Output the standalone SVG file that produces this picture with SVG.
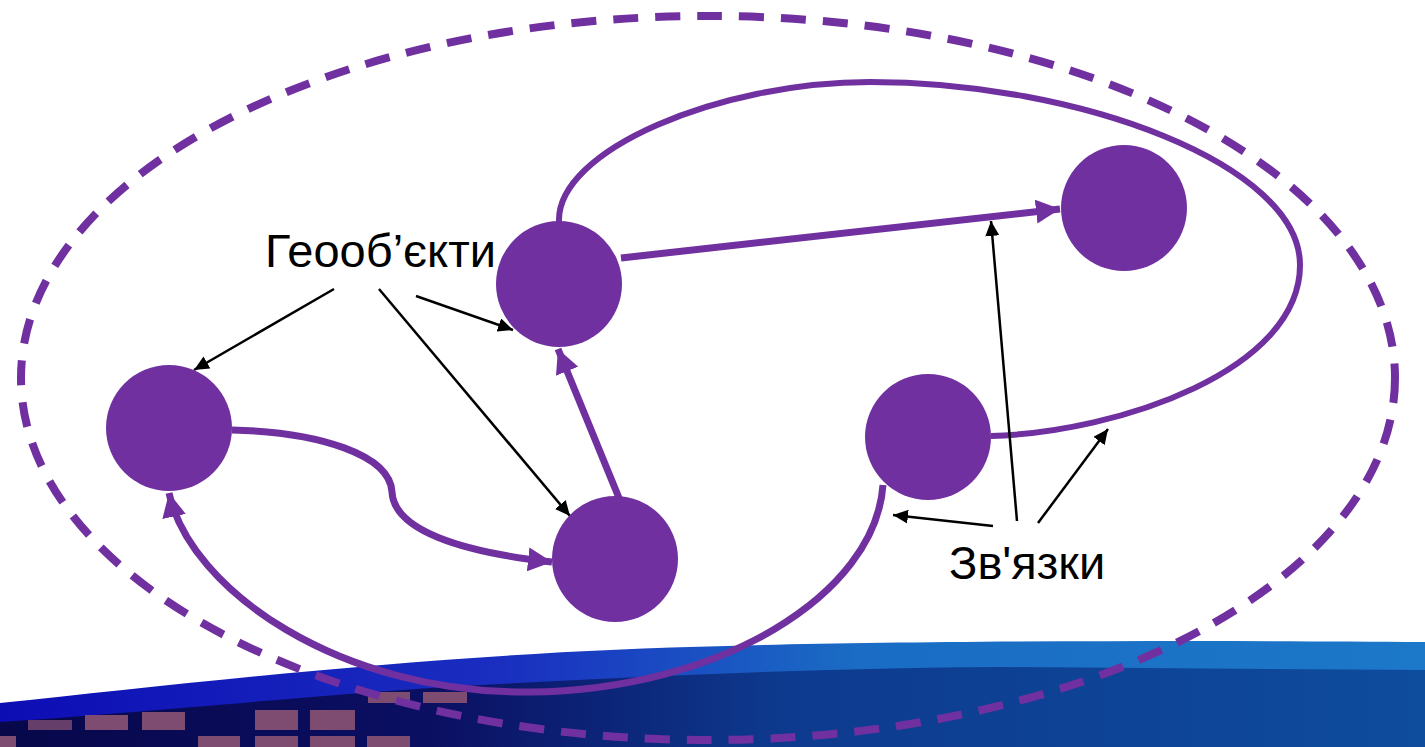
<svg xmlns="http://www.w3.org/2000/svg" width="1425" height="747" viewBox="0 0 1425 747">
<style>
.node{fill:#7030A0}
.link{fill:none;stroke:#7030A0;stroke-width:7}
.loop{fill:none;stroke:#7030A0;stroke-width:6}
.ptr{fill:none;stroke:#000;stroke-width:2.5}
.lbl{font-family:"Liberation Sans",Arial,sans-serif;font-size:47px;fill:#000}
.sq{fill:#7d4c70}
</style>
<defs>
<linearGradient id="band" x1="0" y1="0" x2="1" y2="0">
<stop offset="0" stop-color="#0d0db4"/>
<stop offset="0.35" stop-color="#1a2ec0"/>
<stop offset="0.6" stop-color="#1a6cc4"/>
<stop offset="1" stop-color="#1c78c8"/>
</linearGradient>
<linearGradient id="deep" x1="0" y1="0" x2="1" y2="0">
<stop offset="0" stop-color="#07074a"/>
<stop offset="0.3" stop-color="#0b0f62"/>
<stop offset="0.55" stop-color="#0d3a8e"/>
<stop offset="1" stop-color="#0e4c9e"/>
</linearGradient>
<marker id="pa" markerUnits="userSpaceOnUse" markerWidth="25" markerHeight="24" refX="24" refY="12" orient="auto">
<path d="M0,0 L24,12 L0,24 Z" fill="#7030A0"/>
</marker>
<marker id="ba" markerUnits="userSpaceOnUse" markerWidth="16" markerHeight="14" refX="15" refY="7" orient="auto">
<path d="M0,0 L15,7 L0,14 Z" fill="#000"/>
</marker>
</defs>
<g id="background">
<rect width="1425" height="747" fill="#fff"/>
<path d="M0,703 C200,682 450,652 727,646 C900,641 1200,640 1425,642 L1425,747 L0,747 Z" fill="url(#band)"/>
<path d="M0,722 C150,712 350,692 480,685 C650,676 820,668 1000,667 L1425,670 L1425,747 L0,747 Z" fill="url(#deep)"/>
<rect class="sq" x="368" y="692" width="42" height="11"/>
<rect class="sq" x="423" y="692" width="44" height="11"/>
<rect class="sq" x="28" y="720" width="44" height="10" opacity="0.8"/>
<rect class="sq" x="85" y="715" width="43" height="15"/>
<rect class="sq" x="142" y="712" width="43" height="18"/>
<rect class="sq" x="255" y="710" width="43" height="20"/>
<rect class="sq" x="310" y="710" width="45" height="20"/>
<rect class="sq" x="0" y="736" width="16" height="11"/>
<rect class="sq" x="198" y="736" width="42" height="11"/>
<rect class="sq" x="255" y="736" width="43" height="11"/>
<rect class="sq" x="310" y="736" width="45" height="11"/>
<rect class="sq" x="367" y="736" width="43" height="11"/>
</g>
<g id="boundary">
<ellipse cx="708" cy="378" rx="687" ry="362" fill="none" stroke="#7030A0" stroke-width="8" stroke-dasharray="25 17"/>
</g>
<g id="labels">
<g id="label-geoobjects"><text class="lbl" x="265" y="267">Геооб’єкти</text></g>
<g id="label-links"><text class="lbl" x="949" y="579">Зв'язки</text></g>
</g>
<g id="connectors">
<path class="loop" d="M559,222 C556,150 720,82 870,82 C1080,82 1300,165 1300,265 C1300,370 1120,432 991,436"/>
<path class="link" d="M621,258 L1060,209" marker-end="url(#pa)"/>
<path class="link" d="M619,498 L558,349" marker-end="url(#pa)"/>
<path class="link" d="M232,430 C320,432 390,455 392,492 C394,530 460,552 552,562" marker-end="url(#pa)"/>
<path class="link" d="M883,485 C875,595 720,690 530,692 C340,694 190,590 169,493" marker-end="url(#pa)"/>
<path class="ptr" d="M334,289 L194,370" marker-end="url(#ba)"/>
<path class="ptr" d="M379,289 L570,516" marker-end="url(#ba)"/>
<path class="ptr" d="M416,296 L513,330" marker-end="url(#ba)"/>
<path class="ptr" d="M993,526 L893,515" marker-end="url(#ba)"/>
<path class="ptr" d="M1017,521 L991,221" marker-end="url(#ba)"/>
<path class="ptr" d="M1038,523 L1108,429" marker-end="url(#ba)"/>
</g>
<g id="node-a"><circle class="node" cx="169" cy="428" r="63"/></g>
<g id="node-b"><circle class="node" cx="559" cy="284" r="63"/></g>
<g id="node-c"><circle class="node" cx="615" cy="559" r="63"/></g>
<g id="node-d"><circle class="node" cx="1124" cy="208" r="63"/></g>
<g id="node-e"><circle class="node" cx="928" cy="437" r="63"/></g>
</svg>
